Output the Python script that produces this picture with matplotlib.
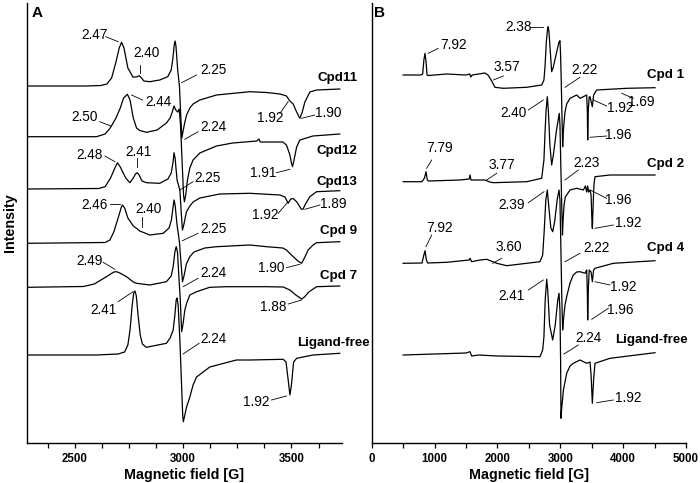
import matplotlib
matplotlib.use('Agg')
import matplotlib.pyplot as plt
from matplotlib.ticker import MultipleLocator, FixedLocator

plt.rcParams['font.family'] = ['Liberation Sans', 'DejaVu Sans']

# ---------------- Panel A spectra: (field [G], intensity [arb.]) ----------------
cpd11 = [(2280, 0), (2550, 0), (2620, 0.5), (2648, 2), (2670, 8), (2690, 24), (2705, 38), (2716, 43.7),
         (2727, 38), (2745, 18), (2768, 9), (2785, 9), (2797, 10.3), (2808, 8), (2819, 5), (2846, 4.3),
         (2892, 6), (2929, 9.3), (2945, 16), (2953, 28), (2959, 41), (2963, 45), (2967, 40), (2975, 16),
         (2983, 0), (2990, -34), (2994, -52), (2999, -46), (3008, -36), (3016, -29), (3031, -22),
         (3046, -18), (3077, -14), (3154, -9), (3308, -5.7), (3385, -6.5), (3447, -8), (3477, -10),
         (3493, -15), (3508, -18), (3524, -26), (3539, -32.3), (3550, -26), (3562, -16), (3585, -6),
         (3616, -4), (3723, -3)]
cpd12 = [(2280, 0), (2600, 0), (2640, 2.7), (2660, 7.7), (2669, 10.7), (2690, 18.7), (2710, 28.7),
         (2725, 38.7), (2743, 42.4), (2755, 36.7), (2770, 18.7), (2785, 8.7), (2800, 6.2), (2831, 4.4),
         (2880, 6.7), (2923, 13.7), (2940, 18.7), (2950, 24.7), (2958, 30.7), (2966, 26.7), (2975, 24.7),
         (2982, 27.7), (2988, 11.7), (2995, -23.3), (3002, -58.3), (3006, -65), (3012, -58.3),
         (3020, -43.3), (3031, -31.3), (3046, -23.3), (3077, -16.3), (3154, -9.3), (3229, -6.3),
         (3340, -4.3), (3350, -2.3), (3356, -5.3), (3420, -5.3), (3460, -5.3), (3477, -8.3), (3493, -18.3),
         (3500, -26.3), (3505, -30), (3512, -23.3), (3524, -10.3), (3539, -3.3), (3599, 0.7), (3723, 2.7)]
cpd13 = [(2280, 0), (2610, 0.5), (2640, 2.3), (2665, 11), (2685, 21), (2697, 26.3), (2710, 22), (2735, 11),
         (2754, 6.3), (2770, 11), (2780, 15), (2788, 16.3), (2797, 14), (2810, 8), (2831, 6.3), (2892, 5.7),
         (2930, 10), (2945, 16), (2953, 26), (2958, 36.3), (2963, 31), (2972, 9), (2985, -1), (2992, -26),
         (2997, -41), (3003, -36), (3015, -23), (3031, -17), (3046, -13), (3077, -9), (3169, -5),
         (3308, -4.3), (3447, -6), (3470, -8), (3485, -14.3), (3497, -10), (3508, -9.5), (3525, -13),
         (3545, -20), (3553, -20.3), (3565, -15), (3585, -7.7), (3616, -2.7), (3723, -1.7)]
cpd9 = [(2280, 0), (2640, 0.8), (2662, 3.3), (2680, 11.3), (2700, 25.3), (2715, 36.3), (2720, 38.3),
        (2730, 35.3), (2745, 25.3), (2770, 17.3), (2785, 15), (2800, 12.3), (2846, 8.3), (2908, 10),
        (2935, 15.3), (2946, 23.3), (2953, 35.3), (2958, 43.3), (2963, 38.3), (2972, 18.3), (2983, 1.3),
        (2990, -18.7), (2997, -38.4), (3004, -32.7), (3015, -20.7), (3031, -13.4), (3050, -8.7),
        (3100, -4.7), (3154, -3.4), (3308, -1.7), (3385, -3.4), (3460, -4.7), (3477, -6.7), (3500, -11.7),
        (3530, -17.7), (3547, -20), (3560, -14.7), (3577, -6.7), (3600, -1.7), (3616, 0.6), (3723, 1.6)]
cpd7 = [(2280, 0), (2540, 0.8), (2590, 3.3), (2646, 10.6), (2680, 15.3), (2693, 15.6), (2708, 14.3),
        (2739, 10.6), (2770, 5.3), (2785, 4), (2846, 2.3), (2923, 5.6), (2945, 11.3), (2954, 20.6),
        (2962, 35.3), (2968, 40.6), (2974, 35.3), (2980, 12.3), (2987, -12.7), (2993, -44.4), (2999, -37.7),
        (3008, -22.7), (3016, -16), (3031, -7.7), (3062, -4.4), (3123, 0), (3200, 0.6), (3385, 0.6),
        (3462, 0.3), (3493, -2.7), (3520, -7.7), (3547, -11.7), (3560, -9.7), (3580, -4.7), (3616, 0.6),
        (3723, 1.3)]
free_a = [(2280, 0), (2600, 0), (2700, 1), (2730, 3), (2745, 10), (2755, 25), (2765, 50), (2772, 62),
          (2778, 64), (2784, 59), (2792, 40), (2802, 20), (2812, 11), (2830, 7.7), (2923, 11.7), (2940, 17),
          (2954, 25), (2962, 40), (2968, 55), (2972, 57), (2977, 50), (2985, 15), (2992, -25), (2998, -60),
          (3001, -66.7), (3006, -62), (3016, -52), (3031, -42), (3046, -30), (3062, -22), (3123, -12),
          (3246, -5), (3308, -5), (3462, -4.3), (3475, -7), (3485, -25), (3493, -40), (3500, -30),
          (3510, -7), (3524, -3.3), (3600, 0), (3723, 1.7)]

# ---------------- Panel B spectra ----------------
cpd1 = [(500, 0), (780, 0), (811, 1), (830, 15), (848, 21.7), (865, 13), (880, 0), (900, -0.5), (1193, 1),
        (1500, 0), (1560, 1), (1575, -2), (1600, 0), (1700, 1), (1800, 2), (1850, 0), (1900, -5),
        (1961, -12.3), (2094, -13.3), (2466, -12.3), (2704, -10), (2740, -5), (2757, 8.3), (2780, 35),
        (2800, 47), (2809, 48.3), (2820, 43), (2845, 20), (2863, 3.3), (2885, 7), (2950, 25), (2980, 33),
        (2995, 34.3), (3005, 20), (3015, -5), (3025, -35), (3038, -71.7), (3050, -55), (3075, -37),
        (3102, -29), (3155, -23.3), (3261, -20), (3314, -23.3), (3367, -21.7), (3420, -20), (3430, -35),
        (3436, -65), (3446, -35), (3460, -22), (3473, -21.7), (3510, -31.7), (3530, -20), (3579, -15),
        (4057, -13.3), (4507, -12.7)]
cpd2 = [(500, 0), (800, 0), (840, 3.7), (864, 10), (885, 1.7), (900, 0.7), (1405, 1.7), (1550, 2.7),
        (1564, 6.7), (1580, 1.7), (1800, 1.7), (1880, -0.3), (1934, -1), (2466, 0), (2704, 3.4),
        (2740, 21.7), (2757, 48.7), (2775, 71.7), (2793, 85), (2810, 71.7), (2835, 36.7), (2863, 16.7),
        (2890, 26.7), (2940, 51.7), (2984, 68.4), (2995, 56.7), (3010, 11.7), (3025, -28.3), (3035, -53.3),
        (3045, -38.3), (3060, -23.3), (3080, -15.3), (3155, -8.3), (3261, -6.6), (3367, -8.3), (3400, -4.3),
        (3420, -10.3), (3436, -4.3), (3450, -10.3), (3473, -8.3), (3490, -13.3), (3500, -33.3),
        (3510, -46.6), (3520, -28.3), (3535, -3.3), (3552, 5), (3791, 6.7), (4507, 6.7)]
cpd4 = [(500, 0), (800, 0.3), (830, 8.3), (848, 12.6), (870, 3.3), (890, 0.3), (1193, 1), (1550, 3.3),
        (1564, 5), (1591, 1.6), (1723, 3.3), (1829, 4), (1900, 2.3), (1989, 0), (2148, -2.4), (2466, 0),
        (2677, 1.6), (2720, 8.3), (2745, 33.3), (2770, 63.3), (2793, 73.3), (2815, 58.3), (2850, 35.3),
        (2879, 31.6), (2910, 41.3), (2950, 63.3), (2980, 73.3), (2995, 63.3), (3010, 13.3), (3025, -36.7),
        (3038, -66.7), (3050, -56.7), (3075, -41.7), (3102, -33.4), (3155, -19.7), (3207, -11.7),
        (3261, -8.7), (3314, -8.4), (3393, -10), (3420, -6.7), (3430, -26.7), (3436, -56.7), (3446, -26.7),
        (3460, -6.7), (3490, -8.7), (3510, -18.4), (3530, -6.7), (3552, -5), (3843, 0), (4507, 2.6)]
free_b = [(500, 0), (1500, 2), (1564, 3.3), (1591, -1), (1700, 0), (2000, -1), (2677, -1.7), (2720, 5),
          (2740, 18.3), (2760, 55), (2784, 75.7), (2800, 65), (2830, 30), (2879, 15), (2920, 30),
          (2960, 55), (2980, 61.7), (2995, 45), (3005, -5), (3011, -63.3), (3020, -55), (3050, -35),
          (3102, -18.3), (3155, -11), (3207, -8.3), (3314, -5), (3420, -8.3), (3473, -7), (3490, -20),
          (3510, -48.3), (3530, -25), (3552, -8.3), (3791, -3.3), (4507, 2.3)]

names_a = ['Cpd11', 'Cpd12', 'Cpd13', 'Cpd 9', 'Cpd 7', 'Ligand-free']
spectra_a = [cpd11, cpd12, cpd13, cpd9, cpd7, free_a]
offsets_a = [357, 306.3, 254, 199.7, 155.7, 88]

names_b = ['Cpd 1', 'Cpd 2', 'Cpd 4', 'Ligand-free']
spectra_b = [cpd1, cpd2, cpd4, free_b]
offsets_b = [368, 261.3, 179.7, 88]

# curve-name positions (x right edge, y)
name_pos_a = [(3804, 364.7), (3804, 292.3), (3804, 261.3), (3804, 212.3), (3804, 167), (3862, 99.7)]
name_pos_b = [(4968, 368), (4968, 278.7), (4968, 194.7), (5032, 103)]

# g-value annotations: (text, text_x, text_y, line_x0, line_y0, line_x1, line_y1)
ann_a = [
    ('2.47', 2592, 408, 2643, 406.3, 2700, 401.3),
    ('2.40', 2831, 389.7, 2800, 378, 2800, 370.3),
    ('2.25', 3139, 373, 3062, 368, 2993, 360.3),
    ('1.92', 3400, 324.7, 3447, 329.7, 3485, 341.3),
    ('1.90', 3669, 329.7, 3608, 328, 3547, 324.7),
    ('2.50', 2546, 326.3, 2615, 321.3, 2666, 317),
    ('2.44', 2885, 341.3, 2813, 343, 2762, 348),
    ('2.24', 3139, 316.3, 3069, 311.3, 3008, 303.7),
    ('1.91', 3369, 269.7, 3431, 270.3, 3493, 273.7),
    ('2.48', 2569, 288, 2639, 287, 2685, 281.3),
    ('2.41', 2792, 291.3, 2788, 284.7, 2788, 276.3),
    ('2.25', 3115, 264.7, 3046, 261.3, 2985, 253),
    ('1.92', 3377, 228, 3439, 229.7, 3485, 241.3),
    ('1.89', 3693, 239, 3631, 238, 3562, 233.7),
    ('2.46', 2592, 238, 2662, 239, 2708, 239),
    ('2.40', 2838, 233.7, 2808, 226.3, 2808, 216.3),
    ('2.25', 3139, 213.7, 3069, 209.7, 2997, 202.3),
    ('1.90', 3408, 174.7, 3477, 175.3, 3539, 178.7),
    ('2.49', 2569, 182, 2631, 180.7, 2685, 173.7),
    ('2.24', 3139, 170.3, 3069, 164.7, 3000, 156.3),
    ('1.88', 3416, 136.3, 3485, 139, 3547, 143),
    ('2.41', 2631, 133, 2700, 141.3, 2769, 151.3),
    ('2.24', 3139, 103.7, 3074, 99.7, 3000, 89),
    ('1.92', 3338, 41.3, 3408, 43, 3477, 47),
]
ann_b = [
    ('7.92', 1298, 398, 1059, 394.7, 900, 389.7),
    ('3.57', 2148, 376.3, 2094, 367, 1934, 363),
    ('2.38', 2332, 416.3, 2518, 416.3, 2720, 416.3),
    ('2.22', 3393, 373, 3314, 365.7, 3075, 355.7),
    ('1.92', 3950, 334.7, 3738, 337, 3525, 343),
    ('1.69', 4295, 341.3, 4162, 344.7, 3977, 349.7),
    ('1.96', 3923, 308, 3738, 307, 3473, 305.7),
    ('2.40', 2253, 329.7, 2491, 333, 2730, 343),
    ('7.79', 1087, 294.7, 954, 283, 875, 274.7),
    ('3.77', 2068, 278, 1989, 269.7, 1829, 263),
    ('2.23', 3420, 279.7, 3287, 273, 3075, 263),
    ('1.96', 3923, 243, 3738, 244.7, 3473, 253),
    ('1.92', 4082, 220.3, 3843, 218, 3552, 214.7),
    ('7.92', 1071, 214.7, 954, 208, 864, 196.3),
    ('2.39', 2227, 238, 2491, 240.3, 2741, 251.3),
    ('3.60', 2173, 196.3, 2068, 184.7, 1925, 179.7),
    ('2.22', 3579, 194.7, 3314, 189.7, 3075, 181.3),
    ('1.92', 4003, 156.3, 3791, 158, 3552, 161.3),
    ('1.96', 3950, 133, 3764, 134.7, 3500, 123.7),
    ('2.41', 2227, 147, 2491, 153, 2730, 163),
    ('2.24', 3446, 104.7, 3287, 98, 3059, 89),
    ('1.92', 4082, 44.7, 3843, 43, 3579, 40.3),
]

W, H = 700, 483
fig = plt.figure(figsize=(7.0, 4.83), dpi=100)
axA = fig.add_axes([26.7 / W, 40 / H, 315 / W, 440 / H])
axB = fig.add_axes([371.7 / W, 40 / H, 314.3 / W, 440 / H])

LW = 0.9
ANN_FS = 9.8
NAME_FS = 9.6


def draw(ax, spectra, offsets, names, name_pos, anns):
    for spec, off in zip(spectra, offsets):
        xs = [p[0] for p in spec]
        ys = [p[1] + off for p in spec]
        ax.plot(xs, ys, color='black', lw=LW, solid_joinstyle='round')
    for name, (x, y) in zip(names, name_pos):
        ax.text(x, y, name, ha='right', va='center', fontsize=NAME_FS, fontweight='bold', clip_on=False)
    for t, tx, ty, x0, y0, x1, y1 in anns:
        ax.text(tx, ty, t, ha='center', va='center', fontsize=ANN_FS)
        ax.plot([x0, x1], [y0, y1], color='black', lw=0.6)
    ax.set_ylim(0, 440)
    ax.set_yticks([])
    for s in ('top', 'right'):
        ax.spines[s].set_visible(False)
    for s in ('left', 'bottom'):
        ax.spines[s].set_linewidth(1.0)
    ax.tick_params(axis='x', which='both', direction='out', width=0.9, labelsize=8.3, pad=3.5)
    ax.tick_params(axis='x', which='major', length=3.5)
    ax.tick_params(axis='x', which='minor', length=3.5)
    ax.set_xlabel('Magnetic field [G]', fontsize=10.3, fontweight='bold', labelpad=2.5)


axA.set_xlim(2278, 3732)
axA.xaxis.set_major_locator(FixedLocator([2500, 3000, 3500]))
axA.xaxis.set_minor_locator(MultipleLocator(125))
draw(axA, spectra_a, offsets_a, names_a, name_pos_a, ann_a)
axA.set_ylabel('Intensity', fontsize=10.3, fontweight='bold')
axA.yaxis.set_label_coords(-0.031, 0.5)
axA.text(0.032, 0.977, 'A', transform=axA.transAxes, ha='center', va='center', fontsize=11, fontweight='bold')

axB.set_xlim(0, 5000)
axB.xaxis.set_major_locator(MultipleLocator(1000))
axB.xaxis.set_minor_locator(MultipleLocator(500))
draw(axB, spectra_b, offsets_b, names_b, name_pos_b, ann_b)
axB.text(0.026, 0.977, 'B', transform=axB.transAxes, ha='center', va='center', fontsize=11, fontweight='bold')

for ax in (axA, axB):
    for lab in ax.get_xticklabels():
        lab.set_fontweight('bold')

fig.savefig('out.png', dpi=100)
